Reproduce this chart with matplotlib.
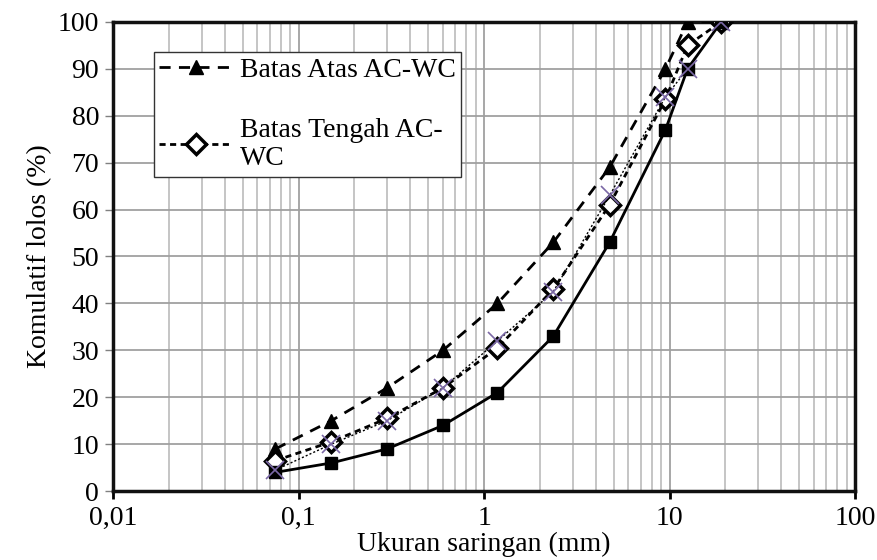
import matplotlib
matplotlib.use("Agg")
import matplotlib.pyplot as plt
from matplotlib.ticker import FixedLocator, FixedFormatter, LogLocator, NullFormatter

# sieve sizes (mm) and percent passing
ukuran = [0.075, 0.15, 0.3, 0.6, 1.18, 2.36, 4.75, 9.5, 12.5, 19]
batas_atas = [9, 15, 22, 30, 40, 53, 69, 90, 100, 100]
batas_tengah = [6.5, 10.5, 15.5, 22, 30.5, 43, 61, 83.5, 95, 100]
batas_bawah = [4, 6, 9, 14, 21, 33, 53, 77, 90, 100]
gradasi = [4.5, 10, 15, 22, 32, 42.5, 63, 84, 90, 100]

xticks = [0.01, 0.1, 1, 10, 100]
xticklabels = ["0,01", "0,1", "1", "10", "100"]

plt.rcParams['font.family'] = ['Liberation Serif', 'DejaVu Serif']
plt.rcParams['font.size'] = 20

fig = plt.figure(figsize=(8.77, 5.6), dpi=100)
ax = fig.add_axes([0.129, 0.123, 0.846, 0.838])

ax.plot(ukuran, batas_atas, color='black', lw=2, linestyle=(0, (4, 3)),
        marker='^', markersize=10, label='Batas Atas AC-WC', zorder=3)
ax.plot(ukuran, batas_tengah, color='black', lw=2, linestyle=(0, (2.2, 1.6)),
        marker='D', markersize=10, markerfacecolor='white', markeredgewidth=2.5,
        label='Batas Tengah AC-\nWC', zorder=3)
ax.plot(ukuran, batas_bawah, color='black', lw=2, linestyle='-',
        marker='s', markersize=9, zorder=3)
ax.plot(ukuran, gradasi, color='black', lw=1, linestyle=(0, (1.5, 1.5)), zorder=4)
ax.plot(ukuran, gradasi, linestyle='none', marker='x', markersize=13,
        markeredgewidth=1.2, color='#7b68a6', zorder=5)

ax.set_xscale('log')
ax.set_xlim(0.01, 100)
ax.set_ylim(0, 100)
ax.set_yticks(range(0, 101, 10))
ax.xaxis.set_major_locator(FixedLocator(xticks))
ax.xaxis.set_major_formatter(FixedFormatter(xticklabels))
ax.xaxis.set_minor_locator(LogLocator(base=10, subs=range(2, 10), numticks=20))
ax.xaxis.set_minor_formatter(NullFormatter())

ax.grid(True, which='major', color='#a0a0a0', lw=1.3, zorder=0)
ax.grid(True, which='minor', axis='x', color='#c0c0c0', lw=1.3, zorder=0)
ax.set_axisbelow(True)

for s in ax.spines.values():
    s.set_linewidth(2.5)
    s.set_color('#111111')

ax.tick_params(axis='x', which='major', direction='out', length=6, width=2, pad=5)
ax.tick_params(axis='x', which='minor', length=0)
ax.tick_params(axis='y', direction='out', length=6, width=1, color='#808080', pad=4)

ax.set_xlabel('Ukuran saringan (mm)', labelpad=0)
ax.set_ylabel('Komulatif lolos (%)', labelpad=4)

leg = ax.legend(loc='upper left', bbox_to_anchor=(0.055, 0.936), frameon=True,
                fancybox=False, framealpha=1, edgecolor='#333333',
                handlelength=2.6, handletextpad=0.3, labelspacing=1.25,
                borderpad=0.2, borderaxespad=0, fontsize=20)
leg.get_frame().set_linewidth(1)

fig.savefig('out.png', dpi=100)
